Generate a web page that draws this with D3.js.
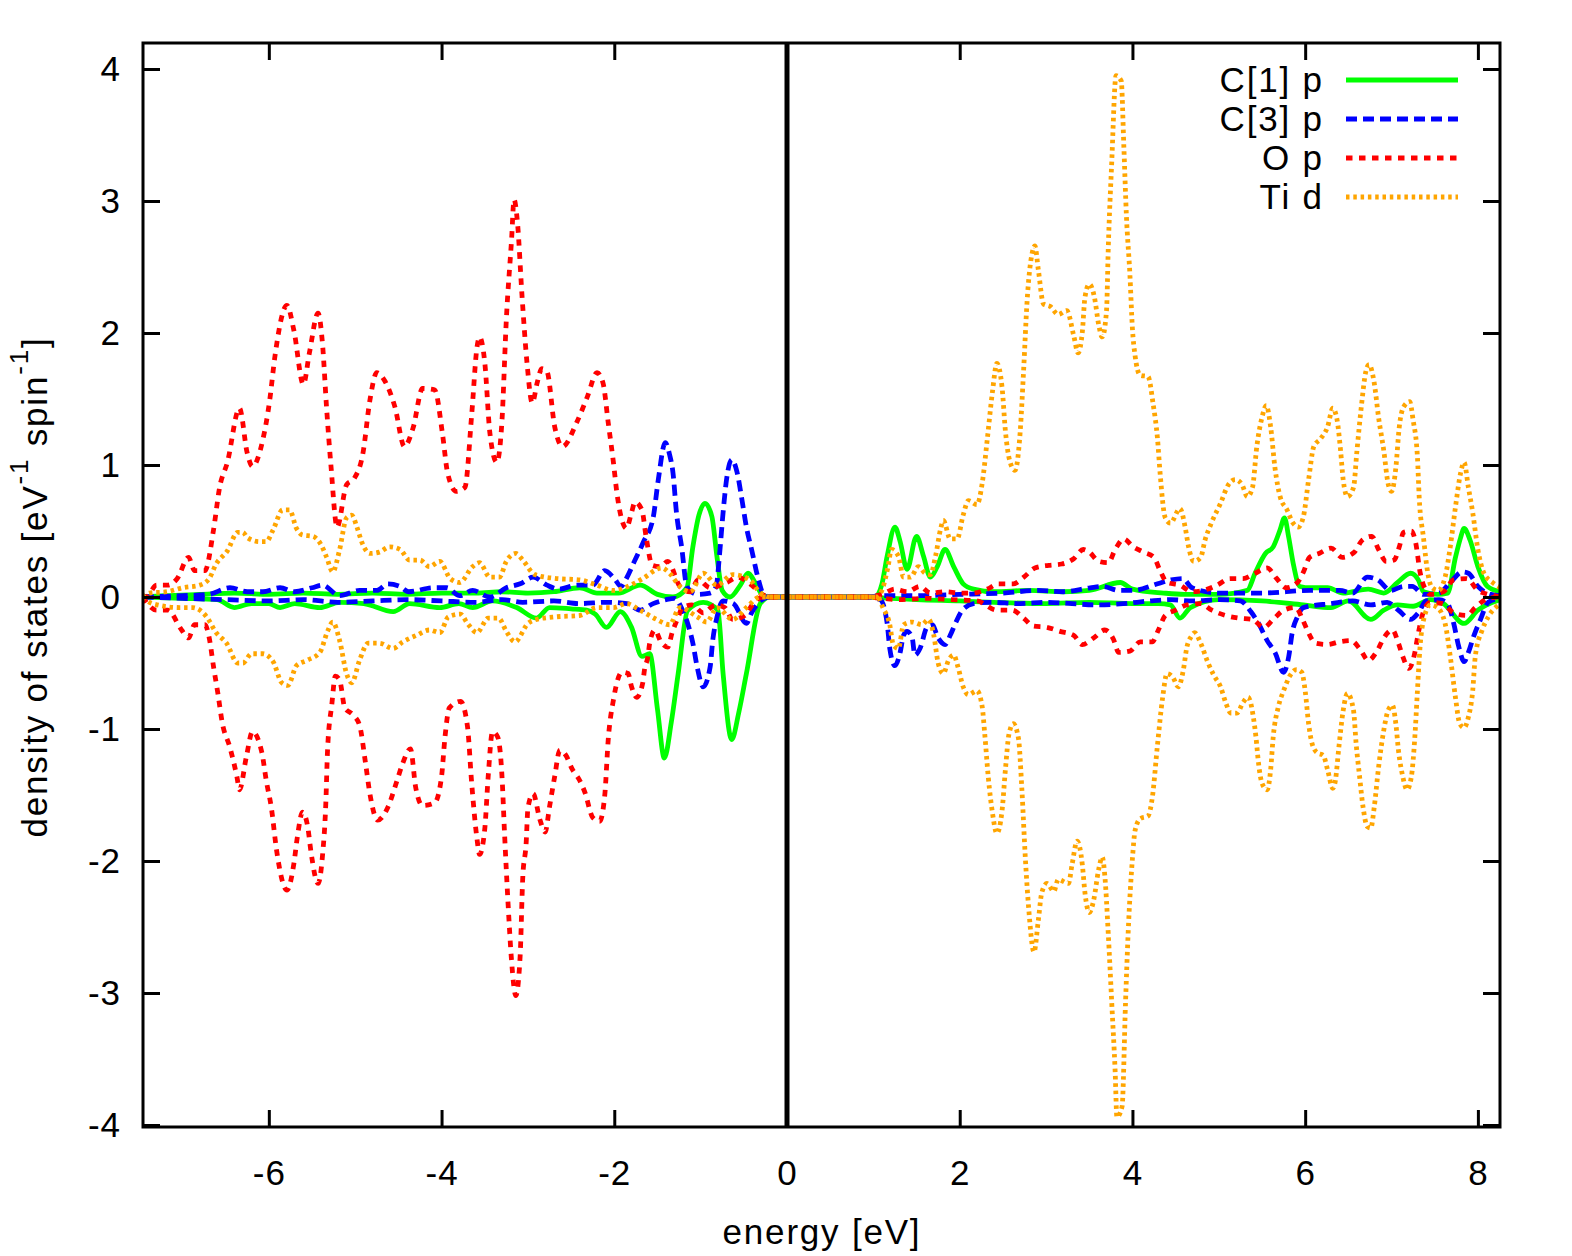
<!DOCTYPE html>
<html>
<head>
<meta charset="utf-8">
<script src="https://cdn.jsdelivr.net/npm/d3@7"></script>
<style>
  body { margin: 0; background: #fff; }
  svg { display: block; font-family: "Liberation Sans", Arial, sans-serif; }
</style>
</head>
<body>
<svg id="chart" width="1572" height="1256"></svg>
<script>
// projected DOS, [energy eV, states eV^-1 spin^-1], spin up positive / spin down negative
const cOneUp = [[-7.46,0],[-7.2,0.01],[-6.8,0.02],[-6.4,0.03],[-6.0,0.02],[-5.6,0.03],[-5.2,0.02],[-4.8,0.03],[-4.4,0.02],[-4.0,0.03],[-3.6,0.03],[-3.3,0.04],[-3.0,0.03],[-2.7,0.04],[-2.4,0.07],[-2.2,0.03],[-1.95,0.03],[-1.7,0.09],[-1.5,0.02],[-1.32,0.0],[-1.16,0.07],[-1.09,0.38],[-1.02,0.62],[-0.95,0.71],[-0.87,0.61],[-0.81,0.30],[-0.75,0.05],[-0.66,0.0],[-0.54,0.09],[-0.45,0.18],[-0.37,0.11],[-0.29,0.02],[-0.2,0],[0.9,0],[1.02,0.0],[1.10,0.10],[1.16,0.31],[1.25,0.53],[1.31,0.42],[1.39,0.21],[1.50,0.46],[1.58,0.31],[1.66,0.15],[1.74,0.23],[1.83,0.36],[1.93,0.23],[2.04,0.10],[2.16,0.06],[2.4,0.04],[2.8,0.05],[3.2,0.04],[3.5,0.05],[3.86,0.11],[4.0,0.06],[4.36,0.03],[4.6,0.02],[5.0,0.02],[5.33,0.05],[5.42,0.18],[5.54,0.33],[5.63,0.38],[5.71,0.51],[5.76,0.60],[5.81,0.45],[5.86,0.26],[5.94,0.08],[6.06,0.07],[6.26,0.07],[6.44,0.03],[6.73,0.06],[6.91,0.03],[7.07,0.11],[7.22,0.18],[7.31,0.13],[7.37,0.04],[7.53,0.02],[7.65,0.03],[7.74,0.30],[7.80,0.45],[7.84,0.52],[7.91,0.43],[8.0,0.23],[8.11,0.08],[8.26,0.04]]
const cOneDown = [[-7.46,0],[-7.0,-0.01],[-6.6,-0.02],[-6.40,-0.08],[-6.2,-0.05],[-6.0,-0.05],[-5.87,-0.08],[-5.7,-0.05],[-5.41,-0.08],[-5.18,-0.04],[-4.9,-0.05],[-4.56,-0.11],[-4.37,-0.05],[-4.02,-0.08],[-3.8,-0.05],[-3.64,-0.08],[-3.41,-0.03],[-3.13,-0.08],[-2.90,-0.16],[-2.75,-0.08],[-2.5,-0.09],[-2.32,-0.10],[-2.22,-0.13],[-2.09,-0.23],[-1.93,-0.11],[-1.80,-0.23],[-1.68,-0.45],[-1.59,-0.43],[-1.50,-0.85],[-1.42,-1.22],[-1.34,-0.95],[-1.26,-0.58],[-1.15,-0.10],[-0.97,-0.04],[-0.80,-0.10],[-0.74,-0.58],[-0.64,-1.08],[-0.56,-0.88],[-0.47,-0.58],[-0.31,-0.05],[-0.2,0],[0.9,0],[1.2,-0.01],[1.5,-0.02],[2.0,-0.03],[2.4,-0.04],[3.0,-0.05],[3.5,-0.04],[4.0,-0.05],[4.3,-0.05],[4.44,-0.06],[4.55,-0.16],[4.67,-0.08],[5.0,-0.02],[5.5,-0.03],[5.98,-0.06],[6.3,-0.08],[6.5,-0.03],[6.76,-0.17],[6.91,-0.10],[7.07,-0.06],[7.25,-0.07],[7.45,-0.02],[7.6,-0.05],[7.84,-0.20],[8.0,-0.10],[8.26,-0.02]]

const cThreeUp = [[-7.46,0],[-7.0,0.01],[-6.7,0.02],[-6.45,0.07],[-6.25,0.04],[-6.07,0.04],[-5.87,0.07],[-5.7,0.04],[-5.50,0.07],[-5.38,0.09],[-5.18,0.01],[-4.95,0.05],[-4.75,0.05],[-4.62,0.10],[-4.48,0.08],[-4.38,0.04],[-4.10,0.07],[-3.94,0.07],[-3.79,0.01],[-3.64,0.05],[-3.44,0.0],[-3.25,0.07],[-3.09,0.10],[-2.94,0.15],[-2.78,0.09],[-2.64,0.06],[-2.43,0.09],[-2.25,0.09],[-2.11,0.20],[-2.0,0.14],[-1.92,0.08],[-1.86,0.14],[-1.76,0.28],[-1.66,0.42],[-1.55,0.60],[-1.49,0.89],[-1.41,1.17],[-1.36,1.08],[-1.32,0.94],[-1.28,0.64],[-1.22,0.38],[-1.16,0.08],[-1.04,0.02],[-0.89,0.03],[-0.82,0.08],[-0.78,0.33],[-0.74,0.64],[-0.70,0.89],[-0.64,1.04],[-0.58,0.95],[-0.52,0.73],[-0.47,0.53],[-0.41,0.36],[-0.33,0.13],[-0.28,0.03],[-0.2,0],[0.9,0],[1.1,0.01],[1.5,0.01],[2.0,0.02],[2.5,0.03],[2.90,0.05],[3.2,0.04],[3.51,0.07],[3.65,0.08],[3.85,0.05],[4.0,0.05],[4.29,0.10],[4.45,0.13],[4.58,0.14],[4.69,0.07],[5.0,0.03],[5.5,0.03],[6.06,0.05],[6.4,0.05],[6.55,0.03],[6.72,0.15],[6.84,0.13],[6.99,0.05],[7.14,0.08],[7.24,0.08],[7.37,0.02],[7.55,0.03],[7.68,0.11],[7.82,0.19],[7.89,0.18],[8.0,0.08],[8.15,0.02],[8.26,0.01]]
const cThreeDown = [[-7.46,0],[-7.0,-0.01],[-6.5,-0.02],[-6.0,-0.03],[-5.6,-0.02],[-5.2,-0.04],[-4.8,-0.03],[-4.4,-0.02],[-4.0,-0.03],[-3.6,-0.04],[-3.3,-0.02],[-3.06,-0.04],[-2.7,-0.03],[-2.40,-0.05],[-2.1,-0.04],[-1.85,-0.05],[-1.70,-0.10],[-1.55,-0.05],[-1.40,-0.02],[-1.30,-0.01],[-1.21,-0.10],[-1.15,-0.20],[-1.09,-0.35],[-1.04,-0.53],[-0.97,-0.68],[-0.89,-0.53],[-0.86,-0.33],[-0.81,-0.15],[-0.74,-0.03],[-0.62,-0.05],[-0.47,-0.20],[-0.41,-0.12],[-0.29,-0.02],[-0.2,0],[0.9,0],[1.08,-0.02],[1.16,-0.20],[1.19,-0.39],[1.25,-0.52],[1.31,-0.42],[1.35,-0.29],[1.39,-0.26],[1.45,-0.31],[1.48,-0.44],[1.54,-0.39],[1.62,-0.23],[1.68,-0.21],[1.75,-0.31],[1.83,-0.36],[1.89,-0.29],[1.95,-0.20],[2.03,-0.10],[2.16,-0.05],[2.35,-0.04],[2.7,-0.05],[3.0,-0.04],[3.3,-0.05],[3.6,-0.06],[3.9,-0.05],[4.2,-0.03],[4.44,-0.02],[4.7,-0.03],[5.0,-0.02],[5.25,-0.03],[5.37,-0.11],[5.46,-0.20],[5.56,-0.33],[5.65,-0.42],[5.75,-0.57],[5.81,-0.45],[5.85,-0.27],[5.91,-0.15],[5.98,-0.08],[6.3,-0.05],[6.55,-0.03],[6.76,-0.06],[6.95,-0.04],[7.08,-0.10],[7.22,-0.17],[7.31,-0.12],[7.40,-0.03],[7.55,-0.02],[7.65,-0.05],[7.72,-0.20],[7.78,-0.38],[7.84,-0.49],[7.89,-0.42],[7.95,-0.30],[8.03,-0.17],[8.12,-0.04],[8.26,-0.01]]

const oUp = [[-7.46,0],[-7.42,0.0],[-7.30,0.09],[-7.17,0.09],[-7.06,0.14],[-6.93,0.30],[-6.86,0.20],[-6.74,0.20],[-6.64,0.51],[-6.57,0.83],[-6.48,1.02],[-6.34,1.43],[-6.25,1.09],[-6.19,0.99],[-6.07,1.19],[-5.99,1.49],[-5.93,1.82],[-5.79,2.21],[-5.71,2.02],[-5.60,1.61],[-5.53,1.85],[-5.43,2.15],[-5.38,1.93],[-5.33,1.42],[-5.28,0.99],[-5.21,0.53],[-5.10,0.85],[-5.01,0.90],[-4.91,1.09],[-4.83,1.49],[-4.75,1.70],[-4.66,1.64],[-4.54,1.44],[-4.43,1.14],[-4.33,1.28],[-4.22,1.58],[-4.08,1.57],[-3.99,1.24],[-3.93,0.94],[-3.83,0.80],[-3.73,0.83],[-3.65,1.39],[-3.59,1.89],[-3.56,1.97],[-3.50,1.78],[-3.44,1.24],[-3.36,1.02],[-3.30,1.34],[-3.25,2.10],[-3.19,2.70],[-3.16,3.01],[-3.12,2.83],[-3.07,2.30],[-3.01,1.77],[-2.95,1.47],[-2.89,1.63],[-2.84,1.73],[-2.78,1.71],[-2.69,1.29],[-2.60,1.14],[-2.43,1.33],[-2.31,1.52],[-2.20,1.70],[-2.13,1.62],[-2.07,1.32],[-2.01,1.02],[-1.97,0.79],[-1.91,0.58],[-1.86,0.52],[-1.80,0.64],[-1.76,0.72],[-1.68,0.66],[-1.63,0.45],[-1.56,0.24],[-1.47,0.23],[-1.38,0.27],[-1.24,0.08],[-1.12,0.04],[-1.03,0.13],[-0.89,0.07],[-0.70,0.11],[-0.57,0.15],[-0.41,0.09],[-0.29,0.02],[-0.2,0],[0.9,0],[1.1,0.02],[1.25,0.06],[1.39,0.04],[1.54,0.08],[1.66,0.03],[1.83,0.04],[2.0,0.03],[2.15,0.03],[2.32,0.06],[2.45,0.10],[2.62,0.10],[2.74,0.15],[2.87,0.22],[3.03,0.24],[3.18,0.25],[3.32,0.29],[3.43,0.36],[3.50,0.34],[3.61,0.27],[3.72,0.26],[3.80,0.36],[3.90,0.44],[4.01,0.38],[4.13,0.34],[4.25,0.30],[4.32,0.20],[4.40,0.11],[4.55,0.09],[4.69,0.04],[4.82,0.05],[4.98,0.09],[5.13,0.14],[5.28,0.14],[5.42,0.18],[5.56,0.22],[5.67,0.14],[5.78,0.07],[5.91,0.11],[5.98,0.19],[6.05,0.30],[6.16,0.33],[6.30,0.37],[6.43,0.30],[6.57,0.34],[6.66,0.43],[6.77,0.46],[6.85,0.36],[6.94,0.27],[7.03,0.28],[7.09,0.38],[7.14,0.49],[7.23,0.50],[7.28,0.41],[7.33,0.19],[7.37,0.09],[7.45,0.02],[7.60,0.04],[7.72,0.13],[7.87,0.14],[8.0,0.05],[8.12,0.02],[8.26,0.0]]
const oDown = [[-7.46,0],[-7.30,-0.10],[-7.17,-0.10],[-7.01,-0.25],[-6.93,-0.31],[-6.86,-0.21],[-6.74,-0.21],[-6.69,-0.31],[-6.64,-0.53],[-6.59,-0.73],[-6.54,-0.95],[-6.45,-1.14],[-6.37,-1.36],[-6.34,-1.46],[-6.26,-1.21],[-6.19,-1.02],[-6.08,-1.18],[-6.03,-1.39],[-5.97,-1.60],[-5.91,-1.92],[-5.79,-2.22],[-5.71,-2.02],[-5.67,-1.82],[-5.61,-1.63],[-5.55,-1.74],[-5.51,-1.94],[-5.43,-2.17],[-5.38,-1.97],[-5.34,-1.56],[-5.32,-1.16],[-5.27,-0.81],[-5.23,-0.60],[-5.18,-0.63],[-5.12,-0.84],[-5.03,-0.89],[-4.95,-0.97],[-4.88,-1.26],[-4.83,-1.49],[-4.74,-1.69],[-4.62,-1.59],[-4.52,-1.40],[-4.45,-1.26],[-4.36,-1.15],[-4.30,-1.44],[-4.22,-1.58],[-4.08,-1.56],[-4.00,-1.36],[-3.96,-1.06],[-3.91,-0.84],[-3.78,-0.79],[-3.70,-0.98],[-3.65,-1.42],[-3.59,-1.83],[-3.56,-1.95],[-3.50,-1.76],[-3.46,-1.36],[-3.41,-1.02],[-3.35,-1.06],[-3.30,-1.36],[-3.27,-1.80],[-3.23,-2.32],[-3.19,-2.75],[-3.14,-3.02],[-3.09,-2.72],[-3.06,-2.13],[-3.02,-1.86],[-3.00,-1.60],[-2.94,-1.49],[-2.86,-1.69],[-2.80,-1.78],[-2.75,-1.59],[-2.69,-1.36],[-2.63,-1.16],[-2.56,-1.20],[-2.49,-1.30],[-2.40,-1.39],[-2.34,-1.48],[-2.25,-1.67],[-2.17,-1.70],[-2.11,-1.50],[-2.07,-1.08],[-2.01,-0.78],[-1.91,-0.57],[-1.84,-0.58],[-1.80,-0.68],[-1.74,-0.76],[-1.67,-0.65],[-1.65,-0.55],[-1.61,-0.45],[-1.59,-0.35],[-1.53,-0.25],[-1.46,-0.34],[-1.38,-0.38],[-1.33,-0.27],[-1.27,-0.17],[-1.21,-0.08],[-1.10,-0.06],[-0.97,-0.12],[-0.83,-0.06],[-0.72,-0.08],[-0.63,-0.17],[-0.49,-0.14],[-0.39,-0.05],[-0.28,0],[-0.2,0],[0.9,0],[1.1,-0.01],[1.3,-0.02],[1.6,-0.01],[1.9,-0.02],[2.2,-0.03],[2.43,-0.10],[2.61,-0.10],[2.74,-0.16],[2.85,-0.22],[3.01,-0.23],[3.16,-0.26],[3.32,-0.29],[3.42,-0.36],[3.55,-0.31],[3.68,-0.25],[3.78,-0.32],[3.84,-0.42],[3.97,-0.41],[4.09,-0.34],[4.23,-0.34],[4.30,-0.25],[4.38,-0.14],[4.50,-0.10],[4.63,-0.06],[4.79,-0.05],[4.92,-0.10],[5.08,-0.14],[5.23,-0.16],[5.39,-0.17],[5.52,-0.23],[5.63,-0.17],[5.75,-0.10],[5.89,-0.08],[5.97,-0.17],[6.03,-0.26],[6.12,-0.35],[6.26,-0.36],[6.39,-0.34],[6.53,-0.33],[6.64,-0.40],[6.73,-0.48],[6.84,-0.40],[6.91,-0.31],[7.01,-0.25],[7.08,-0.35],[7.13,-0.45],[7.20,-0.54],[7.27,-0.42],[7.30,-0.31],[7.33,-0.21],[7.37,-0.11],[7.45,-0.04],[7.59,-0.05],[7.72,-0.12],[7.87,-0.14],[7.97,-0.08],[8.12,-0.01],[8.26,0]]

const tiUp = [[-7.46,0],[-7.38,0.03],[-7.18,0.04],[-7.0,0.07],[-6.80,0.09],[-6.69,0.14],[-6.61,0.25],[-6.48,0.35],[-6.36,0.49],[-6.30,0.49],[-6.25,0.45],[-6.11,0.42],[-6.03,0.42],[-5.95,0.51],[-5.84,0.66],[-5.76,0.66],[-5.68,0.52],[-5.61,0.47],[-5.49,0.46],[-5.39,0.39],[-5.33,0.30],[-5.26,0.19],[-5.18,0.36],[-5.10,0.60],[-5.04,0.62],[-4.98,0.53],[-4.92,0.41],[-4.83,0.33],[-4.72,0.34],[-4.60,0.38],[-4.48,0.36],[-4.37,0.28],[-4.25,0.28],[-4.14,0.23],[-4.02,0.27],[-3.90,0.14],[-3.79,0.11],[-3.64,0.23],[-3.56,0.26],[-3.44,0.15],[-3.33,0.15],[-3.25,0.27],[-3.14,0.33],[-3.06,0.28],[-2.92,0.17],[-2.67,0.14],[-2.40,0.13],[-2.20,0.09],[-2.01,0.05],[-1.78,0.10],[-1.67,0.14],[-1.45,0.22],[-1.36,0.18],[-1.24,0.08],[-1.12,0.04],[-0.97,0.18],[-0.81,0.09],[-0.63,0.17],[-0.43,0.13],[-0.31,0.03],[-0.2,0],[0.9,0],[1.04,0],[1.11,0.07],[1.17,0.23],[1.21,0.36],[1.29,0.31],[1.35,0.15],[1.43,0.15],[1.52,0.23],[1.60,0.18],[1.66,0.17],[1.72,0.31],[1.78,0.52],[1.81,0.58],[1.89,0.44],[1.97,0.44],[2.04,0.62],[2.10,0.73],[2.20,0.70],[2.26,0.86],[2.32,1.20],[2.38,1.56],[2.43,1.77],[2.49,1.59],[2.53,1.25],[2.58,1.03],[2.64,0.96],[2.70,1.25],[2.74,1.72],[2.78,2.24],[2.84,2.61],[2.87,2.66],[2.91,2.48],[2.97,2.22],[3.05,2.20],[3.14,2.14],[3.24,2.17],[3.32,1.98],[3.37,1.85],[3.42,2.01],[3.45,2.27],[3.50,2.37],[3.56,2.27],[3.61,2.06],[3.65,1.97],[3.70,2.17],[3.72,2.64],[3.76,3.29],[3.81,3.95],[3.87,3.91],[3.90,3.42],[3.93,2.89],[3.97,2.45],[4.00,2.03],[4.03,1.83],[4.09,1.68],[4.18,1.67],[4.24,1.46],[4.29,1.20],[4.32,0.94],[4.38,0.60],[4.44,0.56],[4.55,0.67],[4.61,0.53],[4.65,0.38],[4.71,0.27],[4.79,0.30],[4.84,0.43],[4.92,0.57],[5.02,0.71],[5.11,0.85],[5.19,0.89],[5.27,0.85],[5.33,0.76],[5.39,0.83],[5.44,1.14],[5.50,1.36],[5.55,1.45],[5.60,1.29],[5.65,0.98],[5.71,0.76],[5.79,0.66],[5.86,0.56],[5.92,0.53],[5.98,0.61],[6.04,0.89],[6.10,1.14],[6.18,1.20],[6.26,1.29],[6.32,1.43],[6.37,1.34],[6.41,1.11],[6.44,0.89],[6.49,0.76],[6.56,0.83],[6.60,1.11],[6.65,1.44],[6.70,1.70],[6.74,1.76],[6.80,1.62],[6.85,1.36],[6.91,1.11],[6.96,0.86],[7.00,0.80],[7.05,0.98],[7.09,1.29],[7.14,1.44],[7.21,1.48],[7.25,1.34],[7.30,1.06],[7.32,0.76],[7.37,0.45],[7.42,0.18],[7.47,0.07],[7.54,0.05],[7.62,0.15],[7.68,0.38],[7.74,0.68],[7.80,0.94],[7.84,1.02],[7.89,0.83],[7.94,0.64],[8.00,0.36],[8.07,0.18],[8.17,0.11],[8.26,0.07]]
const tiDown = [[-7.46,0],[-7.35,-0.05],[-7.03,-0.08],[-6.88,-0.08],[-6.72,-0.15],[-6.61,-0.27],[-6.49,-0.35],[-6.36,-0.50],[-6.30,-0.50],[-6.20,-0.43],[-6.07,-0.43],[-5.95,-0.49],[-5.85,-0.65],[-5.78,-0.67],[-5.68,-0.52],[-5.56,-0.48],[-5.41,-0.42],[-5.32,-0.26],[-5.26,-0.19],[-5.18,-0.33],[-5.10,-0.58],[-5.04,-0.65],[-4.95,-0.48],[-4.85,-0.35],[-4.72,-0.35],[-4.56,-0.39],[-4.45,-0.34],[-4.29,-0.29],[-4.14,-0.25],[-4.02,-0.27],[-3.92,-0.15],[-3.78,-0.13],[-3.70,-0.20],[-3.59,-0.27],[-3.46,-0.16],[-3.34,-0.16],[-3.25,-0.26],[-3.15,-0.34],[-3.0,-0.20],[-2.90,-0.17],[-2.67,-0.15],[-2.40,-0.14],[-2.20,-0.08],[-2.01,-0.08],[-1.86,-0.05],[-1.70,-0.10],[-1.51,-0.17],[-1.36,-0.21],[-1.24,-0.08],[-1.04,-0.15],[-0.93,-0.19],[-0.81,-0.08],[-0.63,-0.17],[-0.47,-0.08],[-0.31,0],[-0.2,0],[0.9,0],[1.05,0],[1.11,-0.08],[1.19,-0.21],[1.23,-0.36],[1.29,-0.39],[1.35,-0.21],[1.45,-0.19],[1.56,-0.21],[1.64,-0.17],[1.70,-0.29],[1.75,-0.50],[1.81,-0.58],[1.87,-0.48],[1.93,-0.44],[1.98,-0.53],[2.04,-0.68],[2.10,-0.74],[2.20,-0.71],[2.26,-0.83],[2.29,-1.04],[2.33,-1.36],[2.38,-1.64],[2.43,-1.79],[2.49,-1.62],[2.53,-1.30],[2.57,-1.04],[2.62,-0.96],[2.68,-1.07],[2.72,-1.46],[2.76,-1.98],[2.80,-2.37],[2.86,-2.69],[2.91,-2.45],[2.95,-2.24],[3.01,-2.17],[3.09,-2.23],[3.14,-2.14],[3.26,-2.17],[3.30,-2.03],[3.36,-1.85],[3.42,-2.03],[3.45,-2.24],[3.50,-2.39],[3.55,-2.30],[3.61,-2.06],[3.65,-1.97],[3.68,-2.11],[3.72,-2.55],[3.76,-3.07],[3.80,-3.60],[3.82,-3.94],[3.88,-3.86],[3.92,-3.07],[3.95,-2.55],[4.00,-1.98],[4.03,-1.77],[4.09,-1.68],[4.18,-1.66],[4.23,-1.52],[4.29,-1.12],[4.35,-0.76],[4.40,-0.58],[4.47,-0.61],[4.53,-0.68],[4.59,-0.55],[4.63,-0.38],[4.68,-0.30],[4.72,-0.27],[4.79,-0.35],[4.87,-0.49],[4.94,-0.59],[5.02,-0.68],[5.08,-0.80],[5.14,-0.88],[5.21,-0.88],[5.28,-0.80],[5.34,-0.76],[5.40,-0.91],[5.43,-1.06],[5.46,-1.26],[5.50,-1.41],[5.56,-1.46],[5.60,-1.31],[5.63,-1.06],[5.69,-0.83],[5.75,-0.71],[5.83,-0.59],[5.90,-0.55],[5.96,-0.57],[6.00,-0.71],[6.04,-0.96],[6.08,-1.11],[6.14,-1.18],[6.21,-1.20],[6.26,-1.31],[6.32,-1.45],[6.35,-1.39],[6.39,-1.14],[6.44,-0.86],[6.49,-0.73],[6.56,-0.86],[6.59,-1.11],[6.63,-1.36],[6.67,-1.59],[6.72,-1.74],[6.76,-1.75],[6.80,-1.59],[6.85,-1.29],[6.91,-1.01],[6.96,-0.86],[7.01,-0.82],[7.05,-0.96],[7.08,-1.16],[7.13,-1.36],[7.18,-1.46],[7.23,-1.36],[7.27,-1.06],[7.30,-0.71],[7.33,-0.38],[7.38,-0.15],[7.45,-0.06],[7.53,-0.08],[7.62,-0.20],[7.68,-0.45],[7.74,-0.76],[7.79,-0.96],[7.84,-0.99],[7.89,-0.91],[7.94,-0.71],[7.97,-0.45],[8.05,-0.25],[8.12,-0.15],[8.24,-0.06],[8.26,-0.05]]

const seriesNames = ['C[1] p', 'C[3] p', 'O p', 'Ti d']
const xTicks = [-6, -4, -2, 0, 2, 4, 6, 8]
const yTicks = [-4, -3, -2, -1, 0, 1, 2, 3, 4]


const width = 1572
const height = 1256
const plot = { left: 143, right: 1500, top: 43, bottom: 1127 }

const x = d3.scaleLinear().domain([-7.457, 8.256]).range([plot.left, plot.right])
const y = d3.scaleLinear().domain([-4.015, 4.197]).range([plot.bottom, plot.top])

const styles = [
  { color: '#00ff00', dash: null },
  { color: '#0000ff', dash: '11,6' },
  { color: '#ff0000', dash: '6.5,6.5' },
  { color: '#ffa500', dash: '3.5,3.8' },
]

const series = [
  { up: cOneUp, down: cOneDown },
  { up: cThreeUp, down: cThreeDown },
  { up: oUp, down: oDown },
  { up: tiUp, down: tiDown },
].map((s, i) => ({ ...s, name: seriesNames[i], ...styles[i] }))

const svg = d3.select('#chart')
svg.append('rect').attr('width', width).attr('height', height).attr('fill', '#fff')

svg.append('clipPath').attr('id', 'clip')
  .append('rect')
  .attr('x', plot.left).attr('y', plot.top)
  .attr('width', plot.right - plot.left).attr('height', plot.bottom - plot.top)

const line = d3.line()
  .x(d => x(d[0]))
  .y(d => y(d[1]))
  .curve(d3.curveMonotoneX)

const curves = svg.append('g').attr('clip-path', 'url(#clip)')
series.forEach(s => {
  [s.up, s.down].forEach(data => {
    curves.append('path')
      .datum(data)
      .attr('d', line)
      .attr('fill', 'none')
      .attr('stroke', s.color)
      .attr('stroke-width', 4.8)
      .attr('stroke-dasharray', s.dash)
      .attr('stroke-linejoin', 'round')
  })
})

// axes: inward ticks on all four sides
const tickLen = 17
const fontSize = 35
const spacing = 1.8

function styleAxis(g) {
  g.select('.domain').remove()
  g.selectAll('.tick line').attr('stroke', '#000').attr('stroke-width', 3)
  g.selectAll('.tick text')
    .attr('font-size', fontSize)
    .attr('font-family', '"Liberation Sans", Arial, sans-serif')
    .attr('letter-spacing', 1)
    .attr('fill', '#000')
}

svg.append('g')
  .attr('transform', `translate(0,${plot.bottom})`)
  .call(d3.axisBottom(x).tickValues(xTicks).tickSize(-tickLen).tickPadding(33).tickFormat(d => String(d)))
  .call(styleAxis)

svg.append('g')
  .attr('transform', `translate(0,${plot.top})`)
  .call(d3.axisTop(x).tickValues(xTicks).tickSize(-tickLen).tickFormat(''))
  .call(styleAxis)

svg.append('g')
  .attr('transform', `translate(${plot.left},0)`)
  .call(d3.axisLeft(y).tickValues(yTicks).tickSize(-tickLen).tickPadding(22).tickFormat(d => String(d)))
  .call(styleAxis)

svg.append('g')
  .attr('transform', `translate(${plot.right},0)`)
  .call(d3.axisRight(y).tickValues(yTicks).tickSize(-tickLen).tickFormat(''))
  .call(styleAxis)

// frame
svg.append('rect')
  .attr('x', plot.left).attr('y', plot.top)
  .attr('width', plot.right - plot.left).attr('height', plot.bottom - plot.top)
  .attr('fill', 'none').attr('stroke', '#000').attr('stroke-width', 3)

// Fermi level
svg.append('line')
  .attr('x1', x(0)).attr('x2', x(0))
  .attr('y1', plot.top).attr('y2', plot.bottom)
  .attr('stroke', '#000').attr('stroke-width', 5)

// axis titles
svg.append('text')
  .attr('x', 822).attr('y', 1244)
  .attr('text-anchor', 'middle')
  .attr('font-size', fontSize)
  .attr('letter-spacing', spacing)
  .text('energy [eV]')

const yTitle = svg.append('text')
  .attr('transform', 'translate(47,587) rotate(-90)')
  .attr('text-anchor', 'middle')
  .attr('font-size', fontSize)
  .attr('letter-spacing', spacing)
yTitle.append('tspan').text('density of states [eV')
yTitle.append('tspan').attr('font-size', 26).attr('dy', -19).text('-1')
yTitle.append('tspan').attr('dy', 19).text(' spin')
yTitle.append('tspan').attr('font-size', 26).attr('dy', -19).text('-1')
yTitle.append('tspan').attr('dy', 19).text(']')

// legend
const legend = svg.append('g')
series.forEach((s, i) => {
  const ly = 80 + i * 39
  legend.append('text')
    .attr('x', 1322 + spacing).attr('y', ly + 12)
    .attr('text-anchor', 'end')
    .attr('font-size', fontSize)
    .attr('letter-spacing', spacing)
    .text(s.name)
  legend.append('line')
    .attr('x1', 1346).attr('x2', 1458)
    .attr('y1', ly).attr('y2', ly)
    .attr('stroke', s.color)
    .attr('stroke-width', 4.8)
    .attr('stroke-dasharray', s.dash)
})
</script>
</body>
</html>
